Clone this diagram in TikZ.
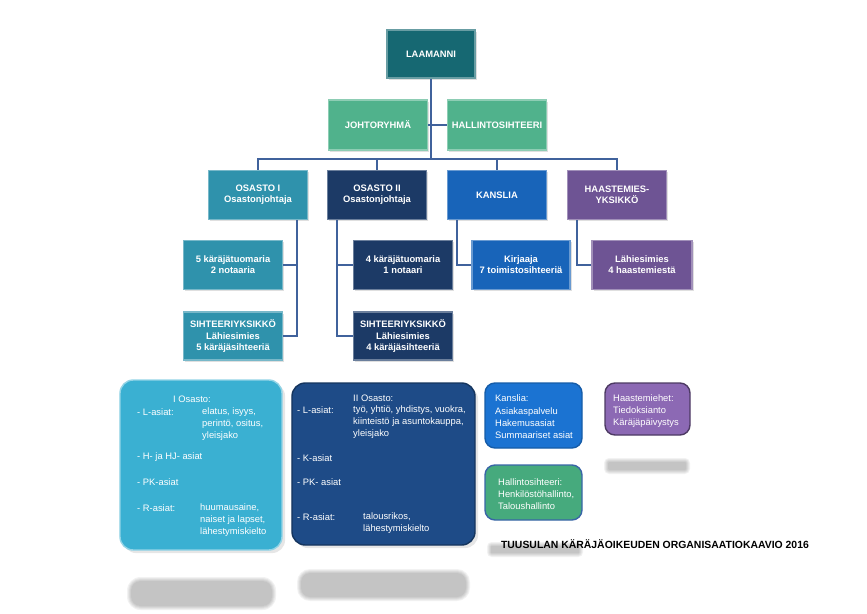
\documentclass[tikz,border=0pt]{standalone}
\usepackage{fontspec}
\setmainfont{Liberation Sans}
\usepackage{tikz}
\usetikzlibrary{positioning, shadows}

\definecolor{laamC}{RGB}{22,104,114}
\definecolor{greenC}{RGB}{80,178,140}
\definecolor{osIC}{RGB}{47,146,172}
\definecolor{osIIC}{RGB}{28,58,102}
\definecolor{kansC}{RGB}{24,100,185}
\definecolor{haasC}{RGB}{110,84,148}
\definecolor{lineC}{RGB}{64,98,156}
\definecolor{infoIC}{RGB}{58,176,210}
\definecolor{infoIIC}{RGB}{30,75,135}
\definecolor{infoKC}{RGB}{27,115,210}
\definecolor{infoHC}{RGB}{70,170,125}
\definecolor{infoPC}{RGB}{140,105,180}

\tikzset{
  orgbox/.style={rectangle, fill=#1, draw=#1!65!white, line width=1pt,
    minimum width=2.97cm, minimum height=1.47cm, inner sep=1pt,
    text=white, align=center, font=\fontsize{8}{9.5}\selectfont\bfseries,
    drop shadow={opacity=0.25, shadow xshift=0.05cm, shadow yshift=-0.05cm}},
  infobox/.style={rectangle, rounded corners=0.4cm, fill=#1, line width=1.2pt},
  conn/.style={draw=lineC, line width=1.6pt},
  txt/.style={text=white, anchor=west, inner sep=0pt,
    font=\fontsize{8}{10.5}\selectfont},
  blur/.style={fill=black, opacity=0.05}
}

\begin{document}
\begin{tikzpicture}[x=0.03cm, y=-0.03cm]
  \useasboundingbox (0,0) rectangle (867,613);

  % top
  \node[orgbox=laamC, minimum width=2.64cm, minimum height=1.44cm] (laamanni) at (431,54) {LAAMANNI};
  \node[orgbox=greenC, minimum height=1.5cm] (johto) at (378,125) {JOHTORYHMÄ};
  \node[orgbox=greenC, minimum height=1.5cm] (hallinto) at (497,125) {HALLINTOSIHTEERI};
  \coordinate (bus) at (431,159);

  % osastot
  \node[orgbox=osIC] (osI) at (258,195) {OSASTO I\\Osastonjohtaja};
  \node[orgbox=osIIC] (osII) at (377,195) {OSASTO II\\Osastonjohtaja};
  \node[orgbox=kansC] (kanslia) at (497,195) {KANSLIA};
  \node[orgbox=haasC] (haaste) at (617,195) {HAASTEMIES-\\YKSIKKÖ};

  % alayksiköt
  \node[orgbox=osIC] (tuomI) at (233,265) {5 käräjätuomaria\\2 notaaria};
  \node[orgbox=osIC, minimum height=1.44cm] (sihI) at (233,336) {SIHTEERIYKSIKKÖ\\Lähiesimies\\5 käräjäsihteeriä};
  \node[orgbox=osIIC] (tuomII) at (403,265) {4 käräjätuomaria\\1 notaari};
  \node[orgbox=osIIC, minimum height=1.44cm] (sihII) at (403,336) {SIHTEERIYKSIKKÖ\\Lähiesimies\\4 käräjäsihteeriä};
  \node[orgbox=kansC, minimum width=2.94cm] (kirjaaja) at (521,265) {Kirjaaja\\7 toimistosihteeriä};
  \node[orgbox=haasC, minimum width=3cm] (lahi) at (642,265) {Lähiesimies\\4 haastemiestä};

  % connectors
  \draw[conn] (laamanni) -- (bus);
  \draw[conn] (johto) -- (hallinto);
  \draw[conn] (osI.north) |- (haaste.north |- bus) -- (haaste.north);
  \draw[conn] (osII.north) -- (osII.north |- bus);
  \draw[conn] (kanslia.north) -- (kanslia.north |- bus);
  \draw[conn] ([xshift=1.17cm]osI.south) |- (sihI.east);
  \draw[conn] ([xshift=1.17cm]osI.south |- tuomI.east) -- (tuomI.east);
  \draw[conn] ([xshift=-1.2cm]osII.south) |- (sihII.west);
  \draw[conn] ([xshift=-1.2cm]osII.south |- tuomII.west) -- (tuomII.west);
  \draw[conn] ([xshift=-1.2cm]kanslia.south) |- (kirjaaja.west);
  \draw[conn] ([xshift=-1.2cm]haaste.south) |- (lahi.west);

  % soft grey reflections
  \foreach \x/\y/\w/\h in {130/580/143/27, 300/572/167/26, 607/461/80/10, 490/545/90/9}
    \foreach \s in {0,1,...,4}
      \fill[blur, rounded corners={(\h/2-\s)*0.03cm}]
        (\x-3+\s,\y-3+\s) rectangle ++(\w+6-2*\s,\h+6-2*\s);

  % I Osasto
  \node[infobox=infoIC, draw=infoIC!55!white, minimum width=4.86cm, minimum height=5.1cm,
    drop shadow={opacity=0.2}] (infoI) at (201,465) {};
  \node[txt, anchor=center] (iOs) at (192,399) {I Osasto:};
  \node[txt] (iLa) at (137,412) {- L-asiat:};
  \node[txt, align=left, anchor=north west] (iLb) at (202,407) {elatus, isyys,\\perintö, ositus,\\yleisjako};
  \node[txt] (iH) at (137,457) {- H- ja HJ- asiat};
  \node[txt] (iPK) at (137,482) {- PK-asiat};
  \node[txt] (iRa) at (137,508) {- R-asiat:};
  \node[txt, align=left, anchor=north west] (iRb) at (200,503) {huumausaine,\\naiset ja lapset,\\lähestymiskielto};

  % II Osasto
  \node[infobox=infoIIC, draw=infoIIC!70!black, minimum width=5.49cm, minimum height=4.86cm,
    drop shadow={opacity=0.2}] (infoII) at (383.5,464) {};
  \node[txt] (iiOs) at (353,398) {II Osasto:};
  \node[txt] (iiLa) at (297,410) {- L-asiat:};
  \node[txt, align=left, anchor=north west] (iiLb) at (353,405) {työ, yhtiö, yhdistys, vuokra,\\kiinteistö ja asuntokauppa,\\yleisjako};
  \node[txt] (iiK) at (297,458) {- K-asiat};
  \node[txt] (iiPK) at (297,482) {- PK- asiat};
  \node[txt] (iiRa) at (297,517) {- R-asiat:};
  \node[txt, align=left, anchor=north west] (iiRb) at (363,512) {talousrikos,\\lähestymiskielto};

  % Kanslia, Hallinto, Haastemiehet
  \node[infobox=infoKC, draw=infoKC!80!black, minimum width=2.91cm, minimum height=1.95cm,
    rounded corners=0.3cm] (infoK) at (533.5,415.5) {};
  \node[txt, align=left] (kTxt) at (495,417) {Kanslia:\\Asiakaspalvelu\\Hakemusasiat\\Summaariset asiat};
  \node[infobox=infoHC, draw=lineC!80!infoKC, minimum width=2.91cm, minimum height=1.65cm,
    rounded corners=0.3cm] (infoH) at (533.5,492.5) {};
  \node[txt, align=left] (hTxt) at (498,494) {Hallintosihteeri:\\Henkilöstöhallinto,\\Taloushallinto};
  \node[infobox=infoPC, draw=infoPC!55!black, minimum width=2.55cm, minimum height=1.56cm,
    rounded corners=0.3cm] (infoP) at (647.5,409) {};
  \node[txt, align=left] (pTxt) at (613,411) {Haastemiehet:\\Tiedoksianto\\Käräjäpäivystys};

  % title
  \node[inner sep=0pt, font=\fontsize{8.9}{10}\selectfont\bfseries] (title) at (655,544)
    {TUUSULAN KÄRÄJÄOIKEUDEN ORGANISAATIOKAAVIO 2016};
\end{tikzpicture}
\end{document}
